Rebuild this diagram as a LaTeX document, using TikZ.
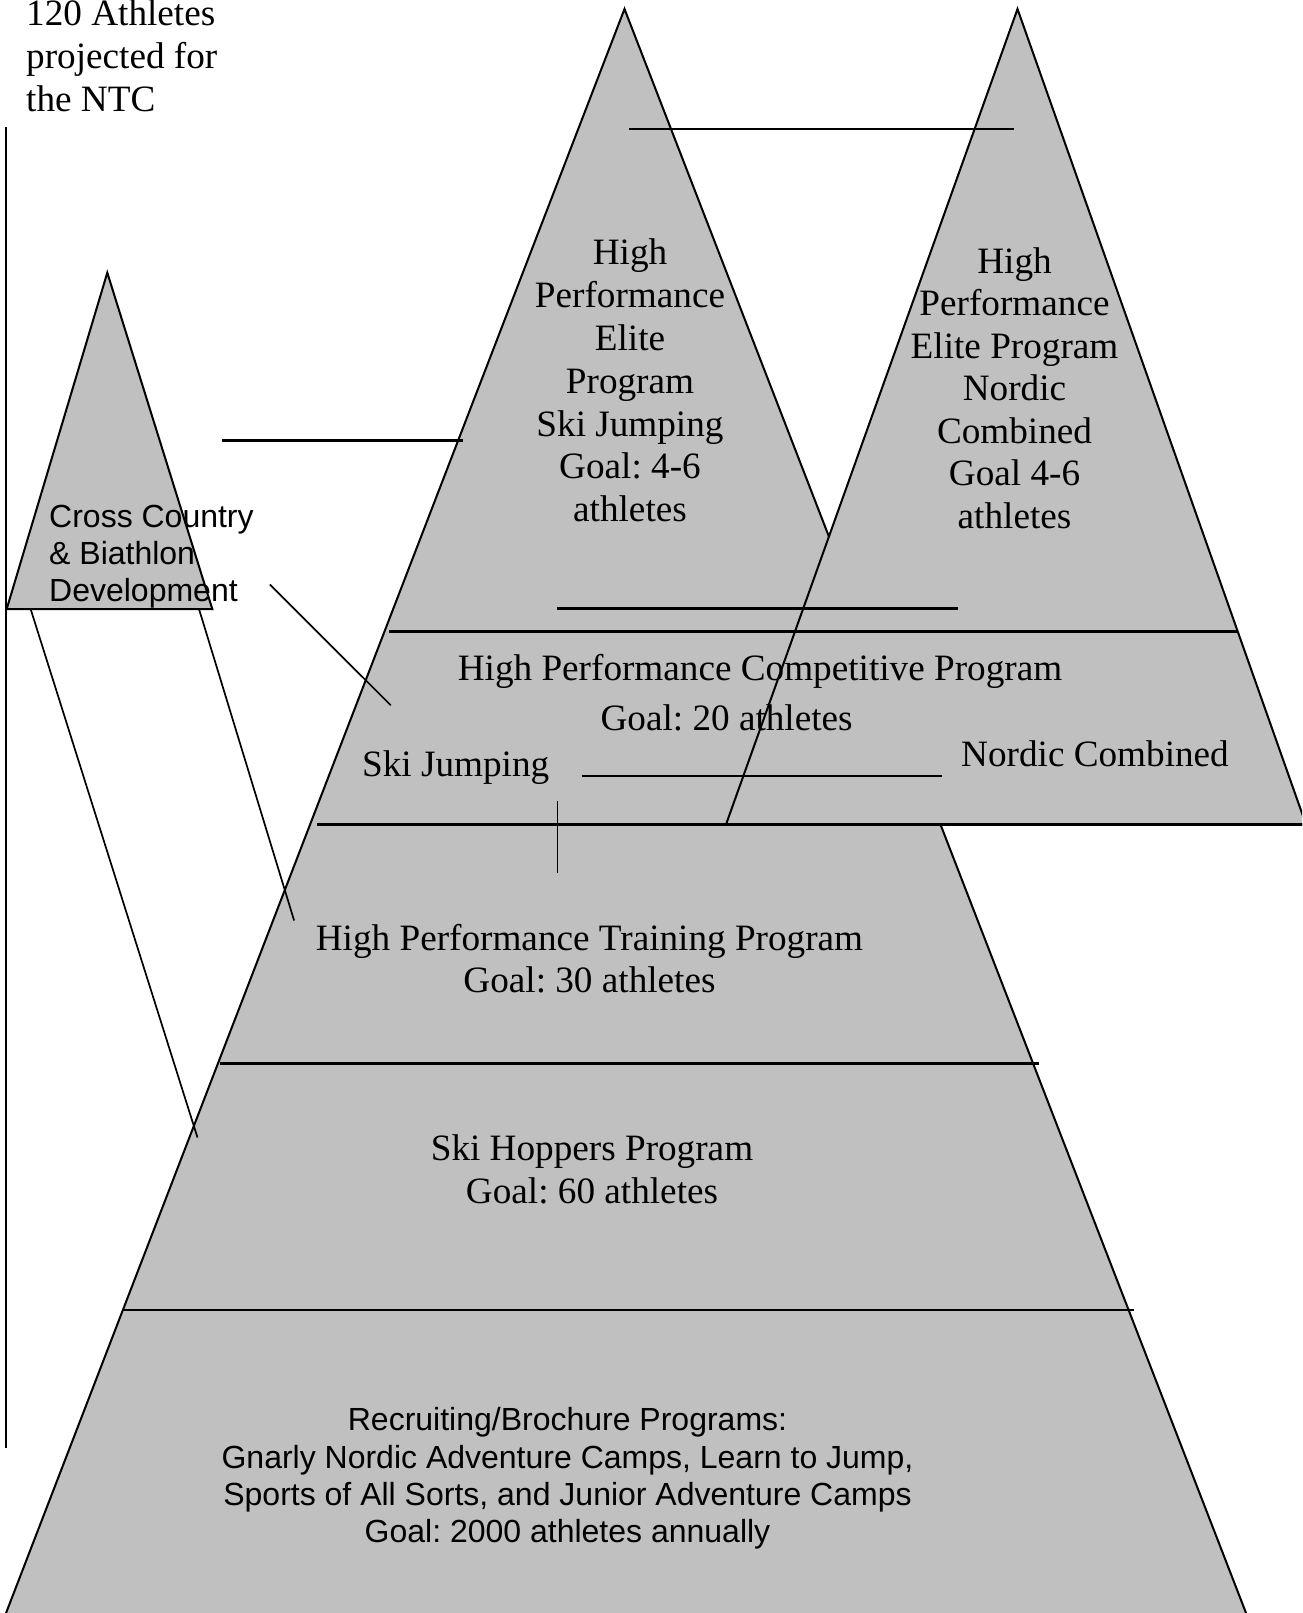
\documentclass[tikz,border=0pt]{standalone}
\usepackage{fontspec}
\setmainfont{Liberation Serif}
\setsansfont{Liberation Sans}
\definecolor{pyrgray}{RGB}{192,192,192}
\frenchspacing
\begin{document}
\begin{tikzpicture}[x=1pt,y=-1pt,
  pyrshape/.style={fill=pyrgray, draw=black, line width=2pt},
  rule/.style={draw=black, line width=2.1pt},
  conn/.style={draw=black, line width=1.7pt},
  serif/.style={font=\fontsize{37.2}{43}\selectfont, inner sep=0pt},
  sans/.style={font=\sffamily\fontsize{32}{37.3}\selectfont, inner sep=0pt}]
\useasboundingbox (0,0) rectangle (1302,1613);
\clip (0,0) rectangle (1302,1613);

% main pyramid (Ski Jumping)
\coordinate (mA) at (624.5,9);
\coordinate (mL) at (-0.5,1630);
\coordinate (mR) at (1252.6,1630);
\path[pyrshape] (mA) -- (mL) -- (mR) -- cycle;

% right pyramid (Nordic Combined)
\coordinate (rA) at (1017.5,9);
\coordinate (rL) at (726,824.5);
\coordinate (rR) at (1306,824.5);
\path[pyrshape] (rA) -- (rL) -- (rR) -- cycle;

% small pyramid (Cross Country & Biathlon)
\coordinate (sA) at (107.3,272.7);
\coordinate (sL) at (6.7,609);
\coordinate (sR) at (212.3,609);
\path[pyrshape] (sA) -- (sL) -- (sR) -- cycle;

% level lines of the main pyramid
\coordinate (l1a) at (389,631.5);   \coordinate (l1b) at (1237,631.5);
\coordinate (l2a) at (317,824.5);   \coordinate (l2b) at (1306,824.5);
\coordinate (l3a) at (220,1063.5);  \coordinate (l3b) at (1038.7,1063.5);
\coordinate (l4a) at (123.4,1310.2);\coordinate (l4b) at (1134.4,1310.2);
\draw[rule] (l1a) -- (l1b);
\draw[rule] (l2a) -- (l2b);
\draw[rule] (l3a) -- (l3b);
\draw[rule] (l4a) -- (l4b);

% other connector lines
\coordinate (c1a) at (629.4,128.6); \coordinate (c1b) at (1014.2,128.6);
\coordinate (c2a) at (221.5,440.5); \coordinate (c2b) at (462.8,440.5);
\coordinate (c3a) at (557.4,608.5); \coordinate (c3b) at (958.2,608.5);
\coordinate (c4a) at (581.5,776.3); \coordinate (c4b) at (942.3,776.3);
\coordinate (c5a) at (557.5,801);   \coordinate (c5b) at (557.5,873.3);
\coordinate (c6a) at (269.8,584.5); \coordinate (c6b) at (390.8,705.3);
\coordinate (d1a) at (30.9,609.9);  \coordinate (d1b) at (197.5,1137.5);
\coordinate (d2a) at (199,609);     \coordinate (d2b) at (294.1,920.5);
\coordinate (va) at (6,127.5);      \coordinate (vb) at (6,1448);
\draw[rule] (c1a) -- (c1b);
\draw[rule] (c2a) -- (c2b);
\draw[rule] (c3a) -- (c3b);
\draw[rule] (c4a) -- (c4b);
\draw[conn] (c5a) -- (c5b);
\draw[conn] (c6a) -- (c6b);
\draw[conn] (d1a) -- (d1b);
\draw[conn] (d2a) -- (d2b);
\draw[rule] (va) -- (vb);

% texts (base anchor = baseline of the last line)
\node[serif, font=\fontsize{37.2}{43.3}\selectfont, anchor=base west, align=left] (ntc) at (26,111.7) {120 Athletes\\projected for\\the NTC};
\node[serif, font=\fontsize{37.2}{42.8}\selectfont, anchor=base, align=center] (sjelite) at (630,521.7) {High\\Performance\\Elite\\Program\\Ski Jumping\\Goal: 4-6\\athletes};
\node[serif, font=\fontsize{37.2}{42.5}\selectfont, anchor=base, align=center] (ncelite) at (1014.5,528.3) {High\\Performance\\Elite Program\\Nordic\\Combined\\Goal 4-6\\athletes};
\node[serif, anchor=base] (comp) at (760,680.5) {High Performance Competitive Program};
\node[serif, anchor=base] (compgoal) at (726.6,730) {Goal: 20 athletes};
\node[serif, anchor=base west] (sj) at (362,776.7) {Ski Jumping};
\node[serif, anchor=base west] (nc) at (961,766.7) {Nordic Combined};
\node[serif, font=\fontsize{37.2}{42.4}\selectfont, anchor=base, align=center] (train) at (589.5,992.5) {High Performance Training Program\\Goal: 30 athletes};
\node[serif, font=\fontsize{37.2}{42.6}\selectfont, anchor=base, align=center] (hop) at (592,1203.3) {Ski Hoppers Program\\Goal: 60 athletes};
\node[sans, anchor=base, align=center] (recr) at (567.5,1542.6) {Recruiting/Brochure Programs:\\Gnarly Nordic Adventure Camps, Learn to Jump,\\Sports of All Sorts, and Junior Adventure Camps\\Goal: 2000 athletes annually};
\node[sans, anchor=base west, align=left] (xc) at (49,601.7) {Cross Country\\\& Biathlon\\Development};
\end{tikzpicture}
\end{document}
